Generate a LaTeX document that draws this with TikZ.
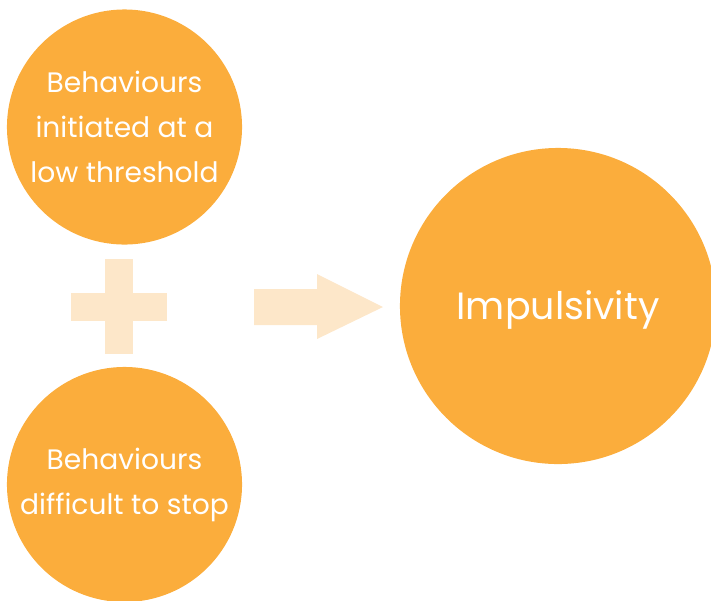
\documentclass[tikz,border=0pt]{standalone}
\usepackage{fontspec}
\setmainfont{Poppins}
\usetikzlibrary{calc}
\definecolor{bubble}{RGB}{251,173,60}
\definecolor{pale}{RGB}{253,231,201}
\tikzset{
  bubble/.style={circle, fill=bubble, text=white, align=center, inner sep=0pt},
  small/.style={bubble, minimum size=5.875cm, font=\fontsize{20}{32}\selectfont},
  big/.style={bubble, minimum size=7.9cm, font=\fontsize{27}{34}\selectfont}
}
\begin{document}
\begin{tikzpicture}[x=0.025cm, y=-0.025cm]
			%%%%% START %%%%%
			
			\useasboundingbox (0, 0) rectangle (711, 600);
			
			\node[small] (low) at (124.5, 127) {Behaviours\\initiated at a\\low threshold};
			\node[small] (stop) at (124.5, 484.5) {Behaviours\\difficult to stop};
			\node[big] (imp) at (558, 306) {\raisebox{-0.33cm}[0pt][0pt]{Impulsivity}};
			
			% plus
			\fill[pale] (71, 293) rectangle (167, 321);
			\fill[pale] (105, 259) rectangle (133, 354);
			
			% arrow
			\fill[pale] (254, 289) -- (317, 289) -- (317, 274) -- (383, 307) -- (317, 339) -- (317, 325) -- (254, 325) -- cycle;
			
			%%%%% END %%%%%
		\end{tikzpicture}
\end{document}
